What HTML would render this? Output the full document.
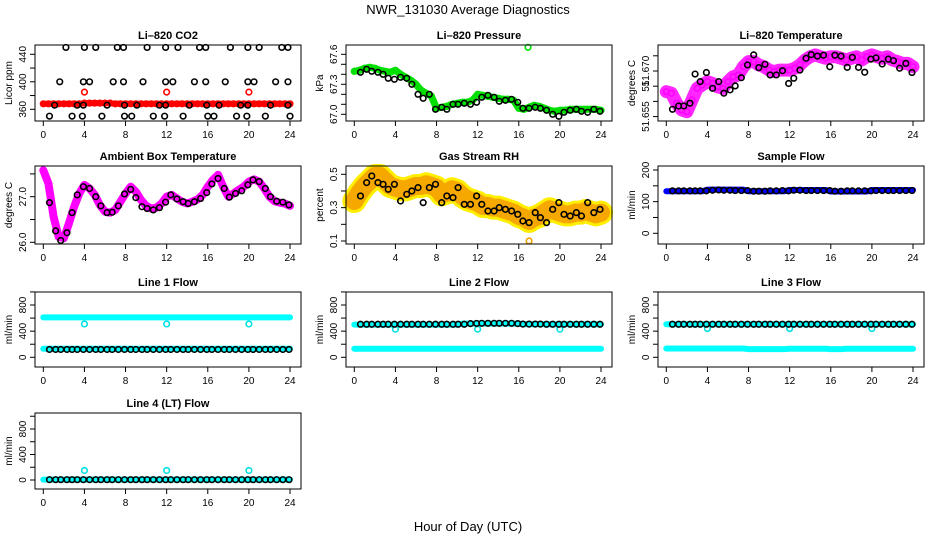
<!DOCTYPE html>
<html><head><meta charset="utf-8"><style>
body{margin:0;background:#fff}
svg{display:block;font-family:"Liberation Sans",sans-serif}
</style></head><body>
<svg id="chart" width="936" height="540" viewBox="0 0 936 540" xmlns="http://www.w3.org/2000/svg">
<text x="468" y="14" text-anchor="middle" font-size="13">NWR_131030  Average Diagnostics</text>
<text x="468" y="531" text-anchor="middle" font-size="13">Hour of Day (UTC)</text>
</svg>
<script>
// shared hours
const denseHours=[0,0.5,1,1.5,2,2.5,3,3.5,4,4.5,5,5.5,6,6.5,7,7.5,8,8.5,9,9.5,10,10.5,11,11.5,12,12.5,13,13.5,14,14.5,15,15.5,16,16.5,17,17.5,18,18.5,19,19.5,20,20.5,21,21.5,22,22.5,23,23.5,24];
const blackHours=[0.6,1.2,1.7,2.3,2.8,3.3,3.9,4.5,5.1,5.6,6.2,6.7,7.3,7.9,8.5,9.0,9.6,10.1,10.7,11.3,11.9,12.4,13.0,13.6,14.1,14.7,15.3,15.9,16.4,17.0,17.6,18.1,18.7,19.3,19.9,20.4,21.0,21.6,22.1,22.7,23.3,23.9];
const xTicks=[0,4,8,12,16,20,24];
const outlierHours=[4,12,20];
// CO2
const co2Red=[368,368,368,368,368,368,368,368,369,369,369,369,369,369,368,368,368,368,368,368,368,368,368,368,368,368,368,368,368,368,368,368,368,368,368,368,368,368,368,368,368,368,368,368,368,368,368,368,368];
const co2RedOut=[385,385,385];
const co2BlackHours=[2.2,4.0,5.1,7.2,7.8,10.1,11.9,13.1,15.2,15.8,18.2,19.9,21.0,23.2,23.8, 1.6,3.9,4.5,6.8,7.8,9.7,11.9,12.6,14.7,15.8,17.7,19.9,20.5,22.6,23.8, 1.1,3.3,3.9,6.2,7.9,9.1,11.3,11.9,14.2,15.9,17.1,19.2,19.9,22.1,23.8, 0.6,2.8,3.8,5.7,7.9,8.6,10.7,11.8,13.6,16.0,16.6,18.8,19.8,21.6,24.0];
const co2Black=[450,450,450,450,450,450,450,450,450,450,450,450,450,450,450, 400,400,400,400,400,400,400,400,400,400,400,400,400,400,400, 366,366,366,366,366,366,366,366,366,366,366,366,366,366,366, 350,350,350,350,350,350,350,350,350,350,350,350,350,350,350];
// pressure
const presGreen=[67.43,67.44,67.46,67.47,67.46,67.44,67.43,67.42,67.44,67.40,67.37,67.34,67.30,67.24,67.21,67.18,67.06,67.07,67.08,67.10,67.11,67.12,67.12,67.14,67.20,67.19,67.18,67.17,67.16,67.15,67.15,67.14,67.06,67.05,67.07,67.09,67.08,67.06,67.04,67.03,67.04,67.04,67.05,67.05,67.05,67.05,67.05,67.05,67.04];
const presBlack=[67.42,67.45,67.43,67.42,67.40,67.36,67.35,67.37,67.36,67.30,67.20,67.16,67.20,67.05,67.07,67.05,67.10,67.10,67.11,67.10,67.12,67.17,67.19,67.17,67.13,67.14,67.15,67.12,67.06,67.06,67.07,67.06,67.04,67.00,66.98,67.02,67.04,67.05,67.03,67.02,67.05,67.03];
const presOutHour=[16.9]; const presOut=[67.67];
// Li-820 temperature
const tempMag=[51.6632,51.6627,51.6594,51.6572,51.6566,51.6605,51.6643,51.6654,51.6665,51.6659,51.6648,51.6643,51.6665,51.6681,51.6687,51.6714,51.6731,51.6731,51.6720,51.6714,51.6703,51.6698,51.6703,51.6703,51.6703,51.6709,51.6720,51.6736,51.6747,51.6753,51.6747,51.6742,51.6747,51.6747,51.6742,51.6736,51.6742,51.6747,51.6736,51.6747,51.6753,51.6747,51.6742,51.6747,51.6736,51.6731,51.6725,51.6725,51.6714];
const tempBlack=[51.6574,51.6585,51.6585,51.6594,51.6690,51.6665,51.6695,51.6643,51.6665,51.6627,51.6638,51.6651,51.6678,51.6720,51.6753,51.6711,51.6722,51.6687,51.6687,51.6701,51.6659,51.6676,51.6703,51.6742,51.6754,51.6749,51.6752,51.6714,51.6752,51.6749,51.6712,51.6745,51.6712,51.6696,51.6739,51.6743,51.6723,51.6739,51.6734,51.6709,51.6725,51.6695];
// ambient
const ambMag=[27.58,27.29,26.56,26.12,26.09,26.42,26.78,27.07,27.26,27.18,27.04,26.82,26.67,26.65,26.71,26.89,27.07,27.22,27.11,26.93,26.80,26.74,26.76,26.85,27.0,27.04,26.96,26.89,26.85,26.89,26.94,27.04,27.22,27.37,27.48,27.22,27.0,27.07,27.15,27.22,27.33,27.38,27.33,27.18,27.0,26.90,26.87,26.85,26.80];
const ambBlack=[26.87,26.25,26.04,26.21,26.65,27.04,27.22,27.18,27.0,26.80,26.65,26.66,26.80,27.06,27.16,26.98,26.78,26.74,26.71,26.76,26.88,27.04,26.95,26.89,26.85,26.89,26.96,27.09,27.28,27.40,27.18,26.99,27.07,27.13,27.26,27.37,27.33,27.18,27.0,26.90,26.88,26.82];
// RH
const rhOrange=[0.34,0.39,0.43,0.46,0.49,0.49,0.46,0.43,0.42,0.41,0.41,0.42,0.43,0.43,0.44,0.43,0.42,0.38,0.39,0.41,0.40,0.37,0.35,0.34,0.33,0.31,0.31,0.30,0.30,0.29,0.28,0.27,0.25,0.24,0.22,0.24,0.25,0.27,0.29,0.28,0.27,0.26,0.26,0.27,0.27,0.28,0.27,0.26,0.27];
const rhBlack=[0.37,0.45,0.49,0.45,0.44,0.41,0.44,0.34,0.38,0.40,0.42,0.33,0.42,0.44,0.33,0.37,0.36,0.42,0.32,0.32,0.37,0.32,0.28,0.28,0.30,0.29,0.28,0.26,0.22,0.21,0.27,0.24,0.21,0.29,0.33,0.26,0.25,0.27,0.25,0.33,0.27,0.29];
const rhOutHour=[17]; const rhOut=[0.10];
// sample flow
const sfBlue=[133,133,133,133,133,133,133,133,138,138,138,138,138,138,138,138,133,133,133,133,133,133,133,133,137,137,137,137,137,137,137,137,132,132,132,132,132,132,132,132,137,137,137,137,137,137,137,137,137];
const sfBlack=[134,134,134,134,134,134,134,136,137,136,136,135,135,135,133,133,133,134,134,135,134,136,136,135,135,135,135,135,133,133,134,134,134,134,134,135,135,135,135,135,135,135];
// line flows
const l1CyanHi=[610,610,610,610,610,610,610,610,610,610,610,610,610,610,610,610,610,610,610,610,610,610,610,610,610,610,610,610,610,610,610,610,610,610,610,610,610,610,610,610,610,610,610,610,610,610,610,610,610];
const l1CyanLo=[130,130,130,130,130,130,130,130,130,130,130,130,130,130,130,130,130,130,130,130,130,130,130,130,130,130,130,130,130,130,130,130,130,130,130,130,130,130,130,130,130,130,130,130,130,130,130,130,130];
const l1Black=[120,120,120,120,120,120,120,120,120,120,120,120,120,120,120,120,120,120,120,120,120,120,120,120,120,120,120,120,120,120,120,120,120,120,120,120,120,120,120,120,120,120];
const l1Out=[510,510,510];
const l2CyanHi=[500,500,500,500,500,500,500,500,500,500,500,500,500,500,500,500,500,500,500,500,500,515,515,515,515,515,515,515,515,515,515,515,515,505,505,505,505,505,505,505,505,505,505,505,505,505,505,505,505];
const l2CyanLo=[130,130,130,130,130,130,130,130,130,130,130,130,130,130,130,130,130,130,130,130,130,130,130,130,130,130,130,130,130,130,130,130,130,130,130,130,130,130,130,130,130,130,130,130,130,130,130,130,130];
const l2Black=[505,505,505,505,505,505,505,505,505,505,505,505,505,505,505,505,505,505,505,515,518,520,520,520,520,520,520,515,508,508,508,508,505,505,505,505,505,505,505,505,505,505];
const l2Out=[430,430,430];
const l3CyanHi=[505,505,505,505,505,505,505,505,505,505,505,505,505,505,505,505,505,505,505,505,505,505,505,505,505,505,505,505,505,505,505,505,505,505,505,505,505,505,505,505,505,505,505,505,505,505,505,505,505];
const l3CyanLo=[135,135,135,135,135,135,135,135,135,135,135,135,135,135,135,135,125,125,125,125,125,125,125,125,130,130,130,130,130,130,130,130,125,125,125,130,130,130,130,130,130,130,130,130,130,130,130,130,130];
const l3Black=[505,505,505,505,505,505,505,505,505,505,505,505,505,505,505,505,505,505,505,505,505,505,505,505,505,505,505,505,505,505,505,505,505,505,505,505,505,505,505,505,505,505];
const l3Out=[440,440,440];
const l4Cyan=[5,5,5,5,5,5,5,5,5,5,5,5,5,5,5,5,5,5,5,5,5,5,5,5,5,5,5,5,5,5,5,5,5,5,5,5,5,5,5,5,5,5,5,5,5,5,5,5,5];
const l4Black=[5,5,5,5,5,5,5,5,5,5,5,5,5,5,5,5,5,5,5,5,5,5,5,5,5,5,5,5,5,5,5,5,5,5,5,5,5,5,5,5,5,5];
const l4Out=[150,150,150];
// y ticks
const co2Ticks=[360,380,400,420,440], co2Labels=["360","","400","","440"];
const presTicks=[67.0,67.1,67.2,67.3,67.4,67.5,67.6], presLabels=["67.0","","","67.3","","","67.6"];
const tempTicks=[51.655,51.660,51.665,51.670,51.675], tempLabels=["51.655","","51","51.670",""];
const ambTicks=[26.0,26.5,27.0,27.5], ambLabels=["26.0","","27.0",""];
const rhTicks=[0.1,0.2,0.3,0.4,0.5], rhLabels=["0.1","","0.3","","0.5"];
const sfTicks=[0,50,100,150,200], sfLabels=["0","","100","","200"];
const flowTicks=[0,200,400,600,800,1000], flowLabels=["0","","400","","800",""];

const svg=document.getElementById('chart');
const NS='http://www.w3.org/2000/svg';
function mk(tag,attrs,parent){const e=document.createElementNS(NS,tag);for(const k in attrs)e.setAttribute(k,attrs[k]);(parent||svg).appendChild(e);return e;}
const colL=[35,346,658], colR=[301,612,924];
const rowT=[45,166,292,413], rowB=[121,244,367,489];

function panel(o){
  const L=colL[o.c],R=colR[o.c],T=rowT[o.r],B=rowB[o.r];
  const g=mk('g',{});
  
  
  const xs=h=>L+8.3+h*10.28;
  const ys=v=>o.p1+(v-o.v1)*(o.p2-o.p1)/(o.v2-o.v1);
  const t=mk('text',{x:(L+R)/2,y:T-6,'text-anchor':'middle','font-size':11,'font-weight':'bold'},g);
  t.textContent=o.title;
  
  
  const clip=mk('g',{},g);
  o.draw(clip,xs,ys);
  const box=mk('rect',{x:L,y:T,width:R-L,height:B-T,fill:'none',stroke:'#000','stroke-width':1},g);
  
  
  xTicks.forEach(h=>{
    mk('line',{x1:xs(h),x2:xs(h),y1:B,y2:B+5,stroke:'#000'},g);
    const tl=mk('text',{x:xs(h),y:B+17,'text-anchor':'middle','font-size':10},g);
    tl.textContent=h;
    
    
  });
  o.ticks.forEach((v,i)=>{
    const y=ys(v);
    mk('line',{x1:L-5,x2:L,y1:y,y2:y,stroke:'#000'},g);
    if(o.labels[i]){
      const tl=mk('text',{x:L-9,y:y,'text-anchor':'middle','font-size':10,transform:`rotate(-90 ${L-9} ${y})`},g);
      tl.textContent=o.labels[i];
      
      
    }
  });
  const yt=mk('text',{x:L-23,y:(T+B)/2,'text-anchor':'middle','font-size':10,transform:`rotate(-90 ${L-23} ${(T+B)/2})`},g);
  yt.textContent=o.ylab;
  
  
}
function band(g,xs,ys,hours,vals,color,w,op){
  const p=mk('polyline',{points:hours.map((h,i)=>xs(h)+','+ys(vals[i])).join(' '),fill:'none',stroke:color,'stroke-width':w,'stroke-linejoin':'round','stroke-linecap':'round',opacity:op||1},g);
  
  
}
function pts(g,xs,ys,hours,vals,color,r,sw){
  hours.forEach((h,i)=>{
    const c=mk('circle',{cx:xs(h),cy:ys(vals[i]),r:r||2.8,fill:'none',stroke:color,'stroke-width':sw||1.6},g);
    
    
  });
}
panel({name:'co2-panel',c:0,r:0,title:'Li\u2013820 CO2',ylab:'Licor ppm',ticks:co2Ticks,labels:co2Labels,v1:440,p1:54.3,v2:360,p2:109.3,
 draw:(g,xs,ys)=>{band(g,xs,ys,denseHours,co2Red,'#f00',6);pts(g,xs,ys,denseHours,co2Red,'#f00');pts(g,xs,ys,outlierHours,co2RedOut,'#f00');pts(g,xs,ys,co2BlackHours,co2Black,'#000');}});
panel({name:'pressure-panel',c:1,r:0,title:'Li\u2013820 Pressure',ylab:'kPa',ticks:presTicks,labels:presLabels,v1:67.6,p1:54.3,v2:67.0,p2:114.3,
 draw:(g,xs,ys)=>{band(g,xs,ys,denseHours,presGreen,'#00e000',7);pts(g,xs,ys,denseHours,presGreen,'#00e000');pts(g,xs,ys,presOutHour,presOut,'#00e000');pts(g,xs,ys,blackHours,presBlack,'#000');}});
panel({name:'temperature-panel',c:2,r:0,title:'Li\u2013820 Temperature',ylab:'degrees C',ticks:tempTicks,labels:tempLabels,v1:51.670,p1:71,v2:51.655,p2:116.6,
 draw:(g,xs,ys)=>{band(g,xs,ys,denseHours,tempMag,'#ff00ff',13,0.85);pts(g,xs,ys,denseHours,tempMag,'#ff00ff');pts(g,xs,ys,blackHours,tempBlack,'#000');}});
panel({name:'ambient-panel',c:0,r:1,title:'Ambient Box Temperature',ylab:'degrees C',ticks:ambTicks,labels:ambLabels,v1:27.0,p1:196.7,v2:26.0,p2:242.3,
 draw:(g,xs,ys)=>{band(g,xs,ys,denseHours,ambMag,'#ff00ff',8);pts(g,xs,ys,denseHours,ambMag,'#ff00ff');pts(g,xs,ys,blackHours,ambBlack,'#000');}});
panel({name:'rh-panel',c:1,r:1,title:'Gas Stream RH',ylab:'percent',ticks:rhTicks,labels:rhLabels,v1:0.5,p1:174.3,v2:0.1,p2:241,
 draw:(g,xs,ys)=>{band(g,xs,ys,denseHours,rhOrange,'#ffee00',24);band(g,xs,ys,denseHours,rhOrange,'#f07000',18,0.55);pts(g,xs,ys,rhOutHour,rhOut,'#f0a000');pts(g,xs,ys,blackHours,rhBlack,'#000');}});
panel({name:'sample-flow-panel',c:2,r:1,title:'Sample Flow',ylab:'ml/min',ticks:sfTicks,labels:sfLabels,v1:200,p1:170,v2:0,p2:233.3,
 draw:(g,xs,ys)=>{band(g,xs,ys,denseHours,sfBlue,'#0000ff',6);pts(g,xs,ys,blackHours,sfBlack,'#000');}});
panel({name:'line1-flow-panel',c:0,r:2,title:'Line 1 Flow',ylab:'ml/min',ticks:flowTicks,labels:flowLabels,v1:800,p1:305,v2:0,p2:357.3,
 draw:(g,xs,ys)=>{band(g,xs,ys,denseHours,l1CyanHi,'#00ffff',6);band(g,xs,ys,denseHours,l1CyanLo,'#00ffff',6);pts(g,xs,ys,outlierHours,l1Out,'#00e0e0');pts(g,xs,ys,blackHours,l1Black,'#000');}});
panel({name:'line2-flow-panel',c:1,r:2,title:'Line 2 Flow',ylab:'ml/min',ticks:flowTicks,labels:flowLabels,v1:800,p1:305,v2:0,p2:357.3,
 draw:(g,xs,ys)=>{band(g,xs,ys,denseHours,l2CyanHi,'#00ffff',6);band(g,xs,ys,denseHours,l2CyanLo,'#00ffff',6);pts(g,xs,ys,outlierHours,l2Out,'#00e0e0');pts(g,xs,ys,blackHours,l2Black,'#000');}});
panel({name:'line3-flow-panel',c:2,r:2,title:'Line 3 Flow',ylab:'ml/min',ticks:flowTicks,labels:flowLabels,v1:800,p1:305,v2:0,p2:357.3,
 draw:(g,xs,ys)=>{band(g,xs,ys,denseHours,l3CyanHi,'#00ffff',6);band(g,xs,ys,denseHours,l3CyanLo,'#00ffff',6);pts(g,xs,ys,outlierHours,l3Out,'#00e0e0');pts(g,xs,ys,blackHours,l3Black,'#000');}});
panel({name:'line4-flow-panel',c:0,r:3,title:'Line 4 (LT) Flow',ylab:'ml/min',ticks:flowTicks,labels:flowLabels,v1:800,p1:429,v2:0,p2:480,
 draw:(g,xs,ys)=>{band(g,xs,ys,denseHours,l4Cyan,'#00ffff',6);pts(g,xs,ys,outlierHours,l4Out,'#00e0e0');pts(g,xs,ys,blackHours,l4Black,'#000');}});
</script>
</body></html>
